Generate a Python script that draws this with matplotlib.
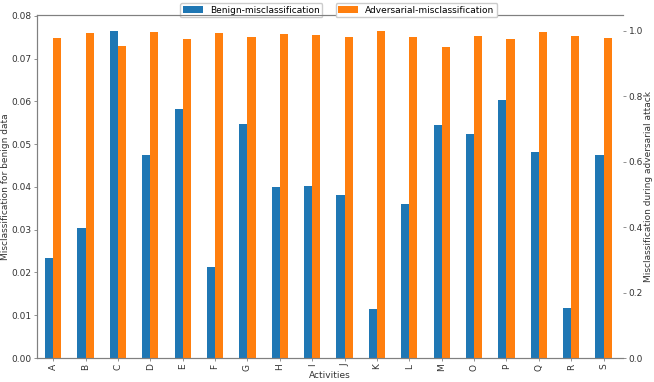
import numpy as np
import matplotlib
matplotlib.use("Agg")
import matplotlib.pyplot as plt

activities = ['A', 'B', 'C', 'D', 'E', 'F', 'G', 'H', 'I', 'J',
              'K', 'L', 'M', 'O', 'P', 'Q', 'R', 'S']
benign = [0.0234, 0.0303, 0.0764, 0.0474, 0.0583, 0.0212, 0.0546, 0.0399, 0.0403,
          0.0382, 0.0114, 0.0361, 0.0544, 0.0523, 0.0603, 0.0482, 0.0118, 0.0474]
adversarial = [0.977, 0.9945, 0.952, 0.9975, 0.974, 0.9945, 0.982, 0.989, 0.986,
               0.981, 0.998, 0.982, 0.951, 0.985, 0.974, 0.9975, 0.985, 0.977]

spine_col = '#808080'
text_col = '#333333'
fs = 6.5

fig = plt.figure(figsize=(6.54, 3.82), dpi=100)
ax = fig.add_axes([37 / 654, 1 - 358 / 382, (623 - 37) / 654, (358 - 15) / 382])
ax2 = ax.twinx()

x = np.arange(len(activities))
w = 0.25
ax.bar(x - w / 2, benign, w, color='#1f77b4', label='Benign-misclassification')
ax2.bar(x + w / 2, adversarial, w, color='#ff7f0e', label='Adversarial-misclassification')

ax.set_xlim(-0.5, len(activities) - 0.4)
ax.set_ylim(0, 0.0802)
ax2.set_ylim(0, 1.048)
ax.set_xticks(x)
ax.set_xticklabels(activities, rotation=90)
ax.set_yticks(np.arange(0, 0.081, 0.01))
ax.yaxis.set_major_formatter(matplotlib.ticker.FormatStrFormatter('%.2f'))
ax2.set_yticks(np.arange(0, 1.01, 0.2))
ax2.yaxis.set_major_formatter(matplotlib.ticker.FormatStrFormatter('%.1f'))

for a in (ax, ax2):
    for s in a.spines.values():
        s.set_color(spine_col)
        s.set_linewidth(0.8)
    a.spines['right'].set_visible(False)
    a.tick_params(colors=spine_col, labelcolor=text_col, labelsize=fs,
                  length=2.5, width=0.6, pad=1.5)

ax.set_xlabel('Activities', fontsize=fs, color=text_col, labelpad=0)
ax.set_ylabel('Misclassification for benign data', fontsize=fs, color=text_col, labelpad=1)
ax2.set_ylabel('Misclassification during adversarial attack', fontsize=fs,
               color=text_col, labelpad=1)

leg_kw = dict(loc='upper center', fontsize=fs, framealpha=1, borderpad=0.3,
              handlelength=2.2, handletextpad=0.8, borderaxespad=0, fancybox=True)
ax.legend(bbox_to_anchor=(0.3655, 1.035), **leg_kw)
ax2.legend(bbox_to_anchor=(0.6475, 1.035), **leg_kw)

fig.savefig('out.png', dpi=100)
